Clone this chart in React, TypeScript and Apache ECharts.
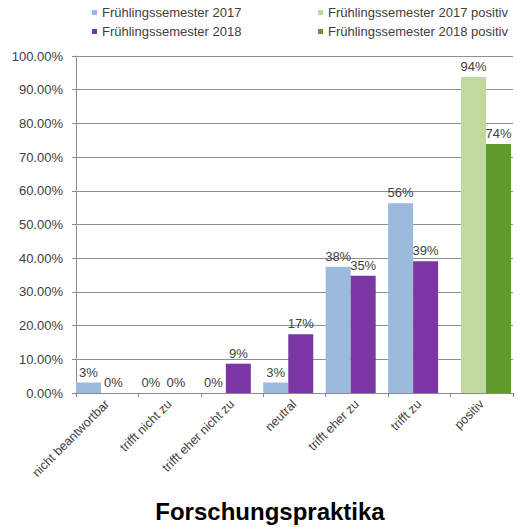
import React, { useEffect, useRef } from "react";
import * as echarts from "echarts";

const categories = [
  "nicht beantwortbar",
  "trifft nicht zu",
  "trifft eher nicht zu",
  "neutral",
  "trifft eher zu",
  "trifft zu",
  "positiv",
];
const seriesNames = [
  "Frühlingssemester 2017",
  "Frühlingssemester 2018",
  "Frühlingssemester 2017 positiv",
  "Frühlingssemester 2018 positiv",
];
const fs2017 = [3.1, 0, 0, 3.1, 37.5, 56.3, null];
const fs2018 = [0, 0, 8.7, 17.4, 34.8, 39.1, null];
const fs2017pos = [null, null, null, null, null, null, 93.8];
const fs2018pos = [null, null, null, null, null, null, 73.9];
const yTicks = [0, 10, 20, 30, 40, 50, 60, 70, 80, 90, 100];
const titleText = "Forschungspraktika";

const colors = ["#9BBADC", "#7A37A3", "#C2D89C", "#5F9B2C"];
const FONT = "Arial, 'Liberation Sans', sans-serif";

export default function App() {
  const ref = useRef<HTMLDivElement>(null);
  useEffect(() => {
    if (!ref.current) return;
    const chart = echarts.init(ref.current, undefined, { renderer: "svg" });
    const W = 437;
    const gridBase = { top: 56, bottom: 134, width: W };
    const hiddenX = (gi: number) => ({
      type: "category" as const,
      gridIndex: gi,
      data: categories,
      show: false,
    });
    const hiddenY = (gi: number) => ({
      type: "value" as const,
      gridIndex: gi,
      min: 0,
      max: 100,
      interval: 10,
      show: false,
    });
    const label = {
      show: true,
      position: "top" as const,
      distance: 4,
      fontFamily: FONT,
      fontSize: 13,
      color: "#404040",
      formatter: (p: any) => Math.round(p.value) + "%",
    };
    const bar = (name: string, data: any[], color: string, gi: number) => ({
      type: "bar" as const,
      name,
      data,
      xAxisIndex: gi,
      yAxisIndex: gi,
      barWidth: 25,
      barGap: "0%",
      itemStyle: { color },
      label,
    });
    const legendCommon = {
      orient: "vertical" as const,
      top: 6,
      padding: 0,
      itemWidth: 5,
      itemHeight: 5,
      itemGap: 6,
      icon: "rect",
      textStyle: { fontFamily: FONT, fontSize: 13, color: "#404040" },
      selectedMode: false as const,
    };
    chart.setOption({
      animation: false,
      backgroundColor: "#ffffff",
      title: {
        text: titleText,
        left: 265,
        textAlign: "center",
        top: 494,
        textStyle: { fontFamily: FONT, fontSize: 24, fontWeight: "bold", color: "#000" },
      },
      legend: [
        { ...legendCommon, left: 92, data: [seriesNames[0], seriesNames[1]] },
        { ...legendCommon, left: 318, data: [seriesNames[2], seriesNames[3]] },
      ],
      grid: [
        { ...gridBase, left: 76 },
        { ...gridBase, left: 76 - 6.25 },
        { ...gridBase, left: 76 + 6.75 },
      ],
      xAxis: [
        {
          type: "category",
          gridIndex: 0,
          data: categories,
          axisLine: { lineStyle: { color: "#8a8a8a", width: 1 } },
          axisTick: { show: true, length: 4, lineStyle: { color: "#8a8a8a" } },
          axisLabel: {
            interval: 0,
            rotate: 45,
            margin: 9,
            fontFamily: FONT,
            fontSize: 12.5,
            color: "#404040",
          },
        },
        hiddenX(1),
        hiddenX(2),
      ],
      yAxis: [
        {
          type: "value",
          gridIndex: 0,
          min: 0,
          max: 100,
          interval: 10,
          axisLine: { show: true, lineStyle: { color: "#8a8a8a" } },
          axisTick: { show: true, length: 4, lineStyle: { color: "#8a8a8a" } },
          splitLine: { lineStyle: { color: "#8f8f8f", width: 1 } },
          axisLabel: {
            margin: 13,
            fontFamily: FONT,
            fontSize: 13,
            color: "#404040",
            formatter: (v: number) => (yTicks.includes(v) ? v.toFixed(2) + "%" : ""),
          },
        },
        hiddenY(1),
        hiddenY(2),
      ],
      series: [
        bar(seriesNames[0], fs2017, colors[0], 1),
        bar(seriesNames[1], fs2018, colors[1], 1),
        bar(seriesNames[2], fs2017pos, colors[2], 2),
        bar(seriesNames[3], fs2018pos, colors[3], 2),
      ],
    });
    return () => chart.dispose();
  }, []);
  return (
    <div
      ref={ref}
      style={{ position: "absolute", left: 0, top: 0, width: 517, height: 527 }}
    />
  );
}
